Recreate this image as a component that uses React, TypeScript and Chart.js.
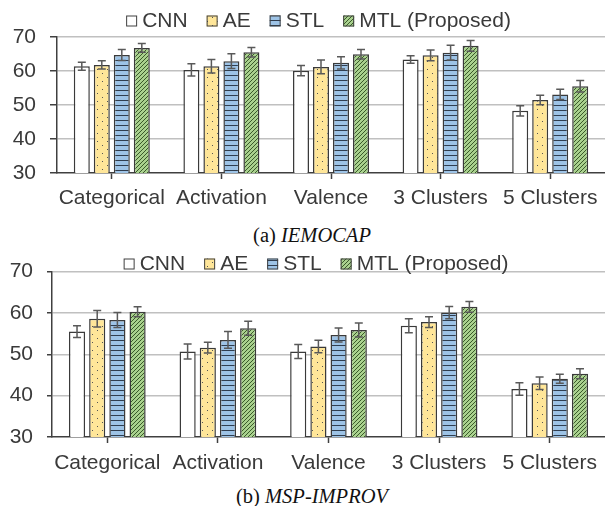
import React, { useEffect, useRef } from "react";
import { Chart, registerables } from "chart.js";
Chart.register(...registerables);

// ---------- data ----------
const categories = ["Categorical", "Activation", "Valence", "3 Clusters", "5 Clusters"];
const seriesNames = ["CNN", "AE", "STL", "MTL (Proposed)"];
const yMin = 30;
const yMax = 70;
const yStep = 10;

// (a) IEMOCAP
const iemocapCNN = [61.4, 60.3, 60.1, 63.4, 48.3];
const iemocapAE = [61.8, 61.4, 61.2, 64.6, 51.5];
const iemocapSTL = [64.7, 62.9, 62.4, 65.4, 53.1];
const iemocapMTL = [66.8, 65.5, 64.9, 67.4, 55.5];
const iemocapCNNErr = [1.2, 1.8, 1.5, 1.1, 1.5];
const iemocapAEErr = [1.2, 2.0, 2.0, 1.6, 1.4];
const iemocapSTLErr = [1.6, 2.2, 1.8, 2.2, 1.5];
const iemocapMTLErr = [1.3, 1.4, 1.4, 1.6, 1.7];

// (b) MSP-IMPROV
const mspCNN = [55.5, 50.7, 50.7, 56.9, 41.6];
const mspAE = [58.6, 51.6, 51.9, 57.8, 43.0];
const mspSTL = [58.3, 53.5, 54.7, 60.1, 44.1];
const mspMTL = [60.3, 56.3, 55.9, 61.5, 45.3];
const mspCNNErr = [1.4, 1.8, 1.7, 1.7, 1.5];
const mspAEErr = [2.0, 1.3, 1.5, 1.3, 1.5];
const mspSTLErr = [1.8, 2.0, 1.7, 1.5, 1.1];
const mspMTLErr = [1.2, 1.7, 1.7, 1.3, 1.2];

// ---------- styles ----------
const FONT = '"Liberation Sans", Arial, sans-serif';
const FONT_SIZE = 21;
const TEXT = "#3a3a3a";
const DARK = "#404040";
const GRID = "#c0c0c0";

function makePattern(kind: string): CanvasPattern | string {
  const c = document.createElement("canvas");
  const g = c.getContext("2d")!;
  if (kind === "dots") {
    c.width = 10; c.height = 8;
    g.fillStyle = "#FFE699"; g.fillRect(0, 0, 10, 8);
    g.fillStyle = "#555555";
    g.fillRect(2, 1, 1, 1);
    g.fillRect(7, 5, 1, 1);
  } else if (kind === "hlines") {
    c.width = 4; c.height = 5;
    g.fillStyle = "#9DC3E6"; g.fillRect(0, 0, 4, 5);
    g.fillStyle = "#2f3d4f"; g.fillRect(0, 0, 4, 1);
  } else if (kind === "diag") {
    c.width = 4; c.height = 4;
    g.fillStyle = "#A9D18E"; g.fillRect(0, 0, 4, 4);
    g.fillStyle = "#3a5a2a";
    for (let x = 0; x < 4; x++) for (let y = 0; y < 4; y++) if ((x + y) % 4 === 3) g.fillRect(x, y, 1, 1);
  } else {
    return "#FFFFFF";
  }
  return g.createPattern(c, "repeat")!;
}

type Cfg = {
  series: number[][];
  errors: number[][];
  top: number;
  height: number;
  padTop: number;
  axisLeft: number;
  xAxisH: number;
  yTickLen: number;
  xTickPad: number;
  legendX: number;
  legendY: number;
};

function BarChart({ cfg }: { cfg: Cfg }) {
  const ref = useRef<HTMLCanvasElement>(null);
  useEffect(() => {
    const ctx = ref.current!.getContext("2d")!;
    const fills = [makePattern("white"), makePattern("dots"), makePattern("hlines"), makePattern("diag")];

    const errorBars = {
      id: "errorBars",
      afterDatasetsDraw(chart: any) {
        const c = chart.ctx;
        const ys = chart.scales.y;
        c.save();
        c.strokeStyle = "#595959";
        c.lineWidth = 1.5;
        chart.data.datasets.forEach((ds: any, i: number) => {
          const meta = chart.getDatasetMeta(i);
          meta.data.forEach((el: any, j: number) => {
            const v = ds.data[j];
            const e = cfg.errors[i][j];
            const x = el.x;
            const y1 = ys.getPixelForValue(v + e);
            const y2 = ys.getPixelForValue(v - e);
            c.beginPath();
            c.moveTo(x, y1); c.lineTo(x, y2);
            c.moveTo(x - 4, y1); c.lineTo(x + 4, y1);
            c.moveTo(x - 4, y2); c.lineTo(x + 4, y2);
            c.stroke();
          });
        });
        c.restore();
      },
    };

    const legend = {
      id: "customLegend",
      afterDraw(chart: any) {
        const c = chart.ctx;
        c.save();
        c.font = FONT_SIZE + "px " + FONT;
        const box = 11, gapText = 5, gapItem = 19;
        const widths = seriesNames.map((n) => c.measureText(n).width);
        const total = widths.reduce((a, w) => a + box + gapText + w, 0) + gapItem * (seriesNames.length - 1);
        let x = cfg.legendX - total / 2;
        const y = cfg.legendY;
        seriesNames.forEach((n, i) => {
          c.fillStyle = fills[i] as any;
          c.fillRect(x, y - box / 2, box, box);
          c.strokeStyle = DARK;
          c.lineWidth = 1;
          c.strokeRect(x + 0.5, y - box / 2 + 0.5, box - 1, box - 1);
          c.fillStyle = TEXT;
          c.textBaseline = "middle";
          c.textAlign = "left";
          c.fillText(n, x + box + gapText, y);
          x += box + gapText + widths[i] + gapItem;
        });
        c.restore();
      },
    };

    const chart = new Chart(ctx, {
      type: "bar",
      data: {
        labels: categories,
        datasets: seriesNames.map((name, i) => ({
          label: name,
          data: cfg.series[i],
          backgroundColor: fills[i] as any,
          borderColor: "#3a3a3a",
          borderWidth: 1.5,
          categoryPercentage: 0.73,
          barPercentage: 0.8,
        })),
      },
      options: {
        animation: false,
        responsive: false,
        layout: { padding: { top: cfg.padTop, left: 0, right: 0, bottom: 0 } },
        plugins: { legend: { display: false }, tooltip: { enabled: false } },
        scales: {
          x: {
            offset: true,
            ticks: { color: TEXT, font: { family: FONT, size: FONT_SIZE }, padding: cfg.xTickPad, maxRotation: 0, autoSkip: false },
            grid: { drawOnChartArea: false, drawTicks: true, tickLength: 6, tickColor: DARK, tickWidth: 1.5, offset: false },
            border: { color: DARK, width: 1.5 },
            afterFit: (s: any) => { s.height = cfg.xAxisH; },
          },
          y: {
            min: yMin,
            max: yMax,
            ticks: { stepSize: yStep, color: TEXT, font: { family: FONT, size: FONT_SIZE }, padding: 14 },
            grid: {
              color: (c: any) => (c.tick && c.tick.value === yMin ? "rgba(0,0,0,0)" : GRID),
              lineWidth: 1.5,
              drawTicks: true,
              tickLength: cfg.yTickLen,
              tickColor: DARK,
              tickWidth: 1.5,
            },
            border: { color: DARK, width: 1.5 },
            afterFit: (s: any) => { s.width = cfg.axisLeft; },
          },
        },
      },
      plugins: [errorBars, legend],
    });
    return () => chart.destroy();
  }, []);
  return (
    <canvas
      ref={ref}
      width={605}
      height={cfg.height}
      style={{ position: "absolute", left: 0, top: cfg.top, width: 605, height: cfg.height }}
    />
  );
}

const topCfg: Cfg = {
  series: [iemocapCNN, iemocapAE, iemocapSTL, iemocapMTL],
  errors: [iemocapCNNErr, iemocapAEErr, iemocapSTLErr, iemocapMTLErr],
  top: 0,
  height: 215,
  padTop: 37,
  axisLeft: 57,
  xAxisH: 42,
  yTickLen: 7,
  xTickPad: 7,
  legendX: 318.5,
  legendY: 21,
};

const bottomCfg: Cfg = {
  series: [mspCNN, mspAE, mspSTL, mspMTL],
  errors: [mspCNNErr, mspAEErr, mspSTLErr, mspMTLErr],
  top: 245,
  height: 240,
  padTop: 26.7,
  axisLeft: 52,
  xAxisH: 48,
  yTickLen: 5,
  xTickPad: 8,
  legendX: 316,
  legendY: 19,
};

const captionStyle: React.CSSProperties = {
  position: "absolute",
  left: 0,
  width: 624,
  textAlign: "center",
  fontFamily: '"Liberation Serif", "Times New Roman", serif',
  fontSize: 20.5,
  lineHeight: "22px",
  color: "#111",
  whiteSpace: "nowrap",
};

export default function App() {
  return (
    <div style={{ position: "absolute", left: 0, top: 0, width: 605, height: 506, background: "#fff", overflow: "hidden" }}>
      <BarChart cfg={topCfg} />
      <div style={{ ...captionStyle, top: 224 }}>
        (a) <i>IEMOCAP</i>
      </div>
      <BarChart cfg={bottomCfg} />
      <div style={{ ...captionStyle, top: 485 }}>
        (b) <i>MSP-IMPROV</i>
      </div>
    </div>
  );
}
